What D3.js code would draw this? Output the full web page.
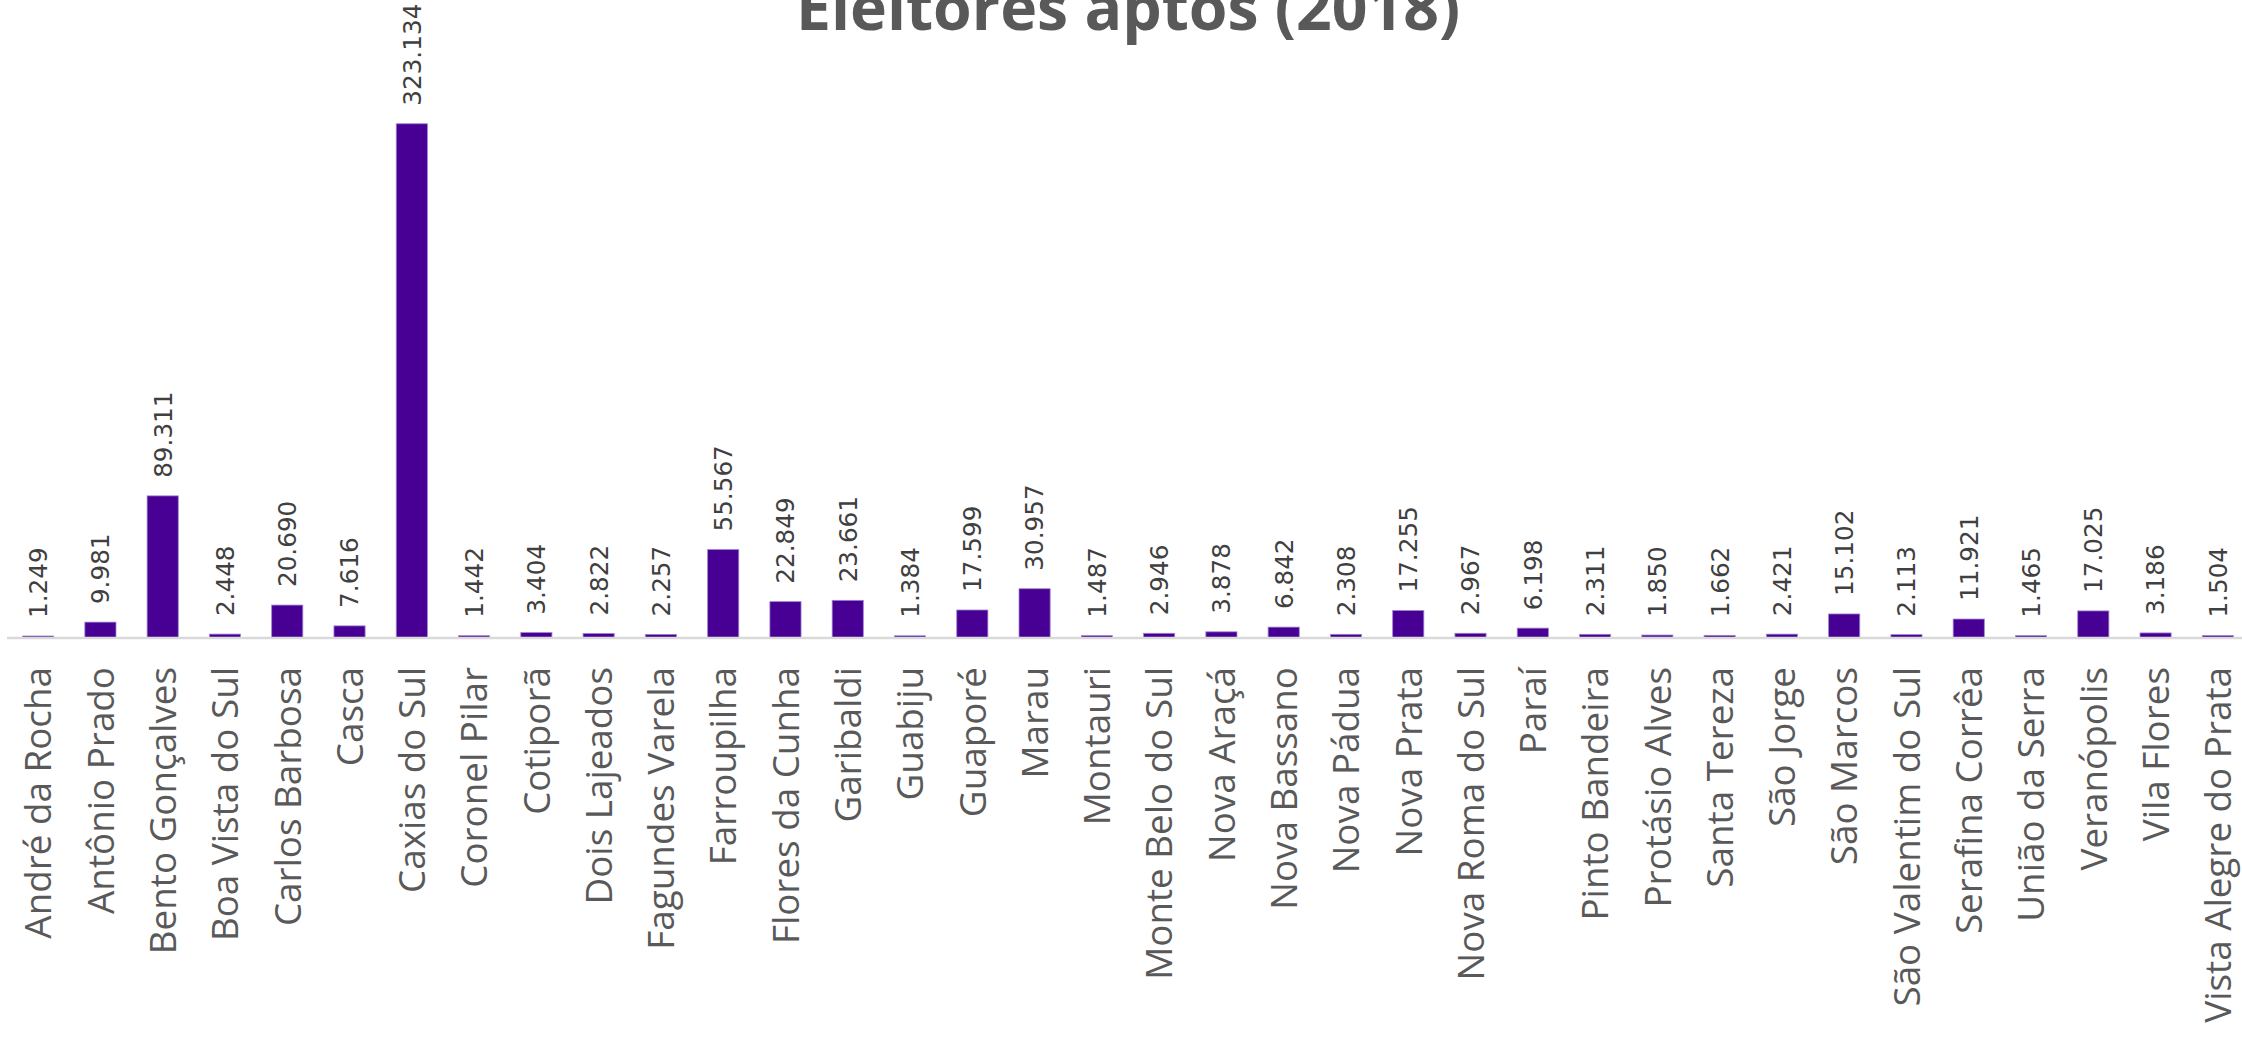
<!DOCTYPE html>
<html>
<head>
<meta charset="utf-8">
<script src="https://cdn.jsdelivr.net/npm/d3@7"></script>
<style>
  html, body { margin: 0; padding: 0; background: #fff; }
  svg { display: block; }
</style>
</head>
<body>
<svg id="chart" width="2242" height="1039"></svg>
<script>
const title = "Eleitores aptos (2018)";
const categories = [
  "André da Rocha", "Antônio Prado", "Bento Gonçalves", "Boa Vista do Sul", "Carlos Barbosa",
  "Casca", "Caxias do Sul", "Coronel Pilar", "Cotiporã", "Dois Lajeados", "Fagundes Varela",
  "Farroupilha", "Flores da Cunha", "Garibaldi", "Guabiju", "Guaporé", "Marau", "Montauri",
  "Monte Belo do Sul", "Nova Araçá", "Nova Bassano", "Nova Pádua", "Nova Prata",
  "Nova Roma do Sul", "Paraí", "Pinto Bandeira", "Protásio Alves", "Santa Tereza",
  "São Jorge", "São Marcos", "São Valentim do Sul", "Serafina Corrêa", "União da Serra",
  "Veranópolis", "Vila Flores", "Vista Alegre do Prata"
];
const values = [
  1249, 9981, 89311, 2448, 20690,
  7616, 323134, 1442, 3404, 2822, 2257,
  55567, 22849, 23661, 1384, 17599, 30957, 1487,
  2946, 3878, 6842, 2308, 17255,
  2967, 6198, 2311, 1850, 1662,
  2421, 15102, 2113, 11921, 1465,
  17025, 3186, 1504
];
const yDomain = [0, 350000];

const svg = d3.select("#chart");
const axisY = 638, topY = 81;

const x = d3.scaleBand().domain(categories).range([7, 2249]).paddingInner(0.5).paddingOuter(0.25);
const y = d3.scaleLinear().domain(yDomain).range([axisY, topY]);

const loc = d3.formatLocale({decimal: ",", thousands: ".", grouping: [3], currency: ["R$", ""]});
const fmt = loc.format(",d");

// Title
svg.append("text")
  .attr("x", 1128).attr("y", 30)
  .attr("text-anchor", "middle")
  .style("font-family", "'Open Sans', sans-serif")
  .style("font-size", "62.5px").style("font-weight", "bold")
  .attr("fill", "#595959")
  .text(title);

// Bars
svg.append("g").selectAll("rect").data(values).join("rect")
  .attr("x", (d, i) => x(categories[i]))
  .attr("width", x.bandwidth())
  .attr("y", d => y(d))
  .attr("height", d => y(0) - y(d))
  .attr("fill", "#480094")
  .attr("stroke", "#9c84cf")
  .attr("stroke-width", 0.8);

// Axis
const xAxis = d3.axisBottom(x).tickSize(0).tickPadding(0);
const gx = svg.append("g").attr("transform", `translate(0,${axisY})`).call(xAxis);
gx.select(".domain").attr("stroke", "#d9d9d9").attr("stroke-width", 2.5)
  .attr("d", `M7,0H2242`);
gx.selectAll(".tick text")
  .attr("transform", "translate(0,29) rotate(-90)")
  .attr("x", 0).attr("y", 0).attr("dy", "0.36em")
  .attr("text-anchor", "end")
  .style("font-size", "36.8px")
  .style("font-family", "'Open Sans', sans-serif")
  .attr("fill", "#595959");

// Data labels
svg.append("g").selectAll("text").data(values).join("text")
  .attr("transform", (d, i) => `translate(${x(categories[i]) + x.bandwidth() / 2},${y(d) - 18}) rotate(-90)`)
  .attr("dy", "0.36em")
  .attr("text-anchor", "start")
  .style("font-family", "'DejaVu Sans', sans-serif")
  .style("font-size", "24.7px")
  .attr("fill", "#404040")
  .text(d => fmt(d));
</script>
</body>
</html>
